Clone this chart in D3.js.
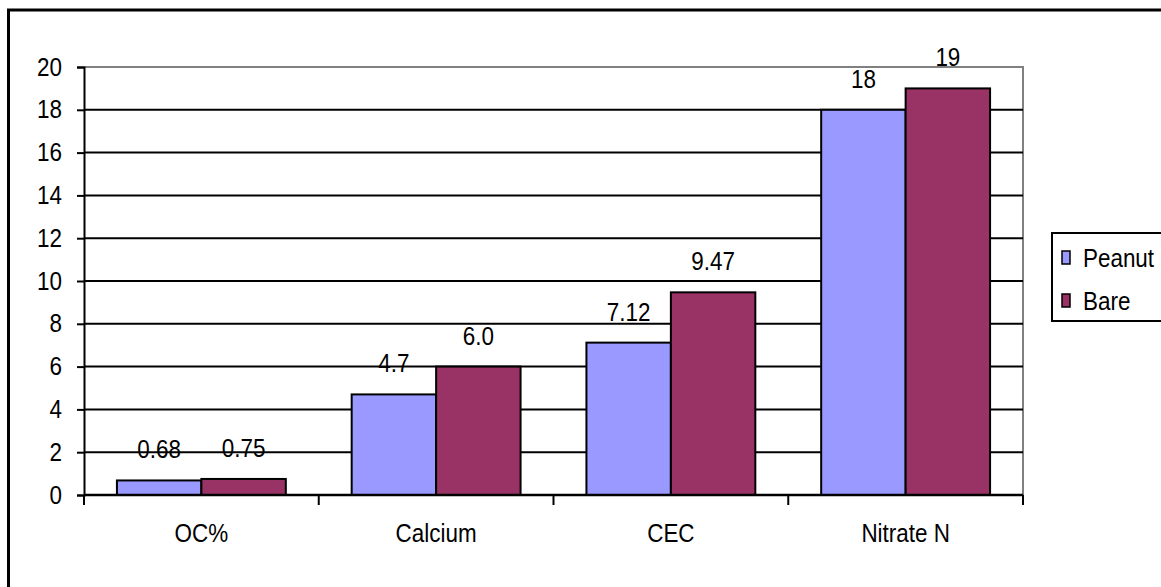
<!DOCTYPE html>
<html>
<head>
<meta charset="utf-8">
<script src="https://cdn.jsdelivr.net/npm/d3@7/dist/d3.min.js"></script>
<style>
  html, body { margin: 0; padding: 0; background: #fff; }
  svg { display: block; }
  text { font-family: "Liberation Sans", Arial, sans-serif; fill: #000; }
</style>
</head>
<body>
<svg id="chart" width="1161" height="587"></svg>
<script>
// Soil properties under peanut vs. bare ground
const categories = ["OC%", "Calcium", "CEC", "Nitrate N"];
const seriesNames = ["Peanut", "Bare"];
const peanutValues = [0.68, 4.7, 7.12, 18];
const bareValues = [0.75, 6.0, 9.47, 19];
const peanutLabels = ["0.68", "4.7", "7.12", "18"];
const bareLabels = ["0.75", "6.0", "9.47", "19"];
const yTicks = [0, 2, 4, 6, 8, 10, 12, 14, 16, 18, 20];
const seriesColors = ["#9999FF", "#993366"];

const svg = d3.select("#chart");
const W = 1161, H = 587;
const plot = { left: 84, right: 1023, top: 67, bottom: 495 };
const FONT = 22;
const STRETCH = "scale(1.02,1.14)"; // slightly tall lettering

// Outer chart frame (extends past the right and bottom edges)
svg.append("rect")
  .attr("x", 8.5).attr("y", 10)
  .attr("width", W + 20).attr("height", H + 20)
  .attr("fill", "#fff").attr("stroke", "#000").attr("stroke-width", 3);

const x = d3.scaleBand().domain(categories).range([plot.left, plot.right]).padding(0);
const xInner = d3.scaleBand().domain(seriesNames)
  .range([0, x.bandwidth()]).paddingOuter(0.39).paddingInner(0);
const y = d3.scaleLinear().domain([0, 20]).range([plot.bottom, plot.top]);

// Plot area border (grey top and right)
svg.append("path")
  .attr("d", `M${plot.left},${plot.top}H${plot.right}V${plot.bottom}`)
  .attr("fill", "none").attr("stroke", "#808080").attr("stroke-width", 2);

// Horizontal gridlines
svg.append("g").selectAll("line")
  .data(yTicks.filter(t => t > 0 && t < 20))
  .join("line")
  .attr("x1", plot.left).attr("x2", plot.right)
  .attr("y1", d => y(d)).attr("y2", d => y(d))
  .attr("stroke", "#000").attr("stroke-width", 2);

// Y axis
const yAxis = svg.append("g")
  .attr("transform", `translate(${plot.left},0)`)
  .call(d3.axisLeft(y).tickValues(yTicks).tickSize(7).tickPadding(15).tickFormat(d3.format("d")));
yAxis.select(".domain").attr("stroke", "#000").attr("stroke-width", 2);
yAxis.selectAll(".tick line").attr("stroke", "#000").attr("stroke-width", 2);
yAxis.selectAll(".tick text")
  .attr("font-size", FONT).attr("font-family", "Liberation Sans, Arial, sans-serif")
  .attr("fill", "#000")
  .attr("x", null).attr("dy", null)
  .attr("transform", `translate(-22,8) ${STRETCH}`);

// Bars
const rows = categories.map((c, i) => ({
  cat: c,
  items: [
    { s: seriesNames[0], v: peanutValues[i], label: peanutLabels[i] },
    { s: seriesNames[1], v: bareValues[i], label: bareLabels[i] }
  ]
}));
const color = d3.scaleOrdinal().domain(seriesNames).range(seriesColors);

const groups = svg.append("g").selectAll("g")
  .data(rows).join("g")
  .attr("transform", d => `translate(${x(d.cat)},0)`);

groups.selectAll("rect")
  .data(d => d.items).join("rect")
  .attr("x", d => xInner(d.s))
  .attr("y", d => y(d.v))
  .attr("width", xInner.bandwidth())
  .attr("height", d => y(0) - y(d.v))
  .attr("fill", d => color(d.s))
  .attr("stroke", "#000").attr("stroke-width", 2);

// Value labels
groups.selectAll("text")
  .data(d => d.items).join("text")
  .attr("transform", d =>
    `translate(${xInner(d.s) + xInner.bandwidth() / 2},${y(d.v) - 22}) ${STRETCH}`)
  .attr("text-anchor", "middle")
  .attr("font-size", FONT)
  .text(d => d.label);

// X axis
const xAxis = svg.append("g")
  .attr("transform", `translate(0,${plot.bottom})`);
xAxis.append("line")
  .attr("x1", plot.left).attr("x2", plot.right)
  .attr("stroke", "#000").attr("stroke-width", 2.5);
const bounds = categories.map(c => x(c)).concat([x(categories[categories.length - 1]) + x.bandwidth()]);
xAxis.selectAll("line.tk").data(bounds).join("line")
  .attr("class", "tk")
  .attr("x1", d => d).attr("x2", d => d)
  .attr("y1", 0).attr("y2", 10)
  .attr("stroke", "#000").attr("stroke-width", 2);
xAxis.selectAll("text").data(categories).join("text")
  .attr("transform", d => `translate(${x(d) + x.bandwidth() / 2},47) ${STRETCH}`)
  .attr("text-anchor", "middle")
  .attr("font-size", FONT)
  .text(d => d);

// Legend
const legend = svg.append("g").attr("transform", "translate(1052,233)");
legend.append("rect")
  .attr("x", 0).attr("y", 0).attr("width", 140).attr("height", 88)
  .attr("fill", "#fff").attr("stroke", "#000").attr("stroke-width", 2);
const li = legend.selectAll("g").data(seriesNames).join("g")
  .attr("transform", (d, i) => `translate(0,${25 + i * 43})`);
li.append("rect")
  .attr("x", 10).attr("y", -7).attr("width", 8).attr("height", 13)
  .attr("fill", d => color(d)).attr("stroke", "#000").attr("stroke-width", 1.5);
li.append("text")
  .attr("transform", `translate(31,9) ${STRETCH}`)
  .attr("font-size", FONT)
  .text(d => d);
</script>
</body>
</html>
